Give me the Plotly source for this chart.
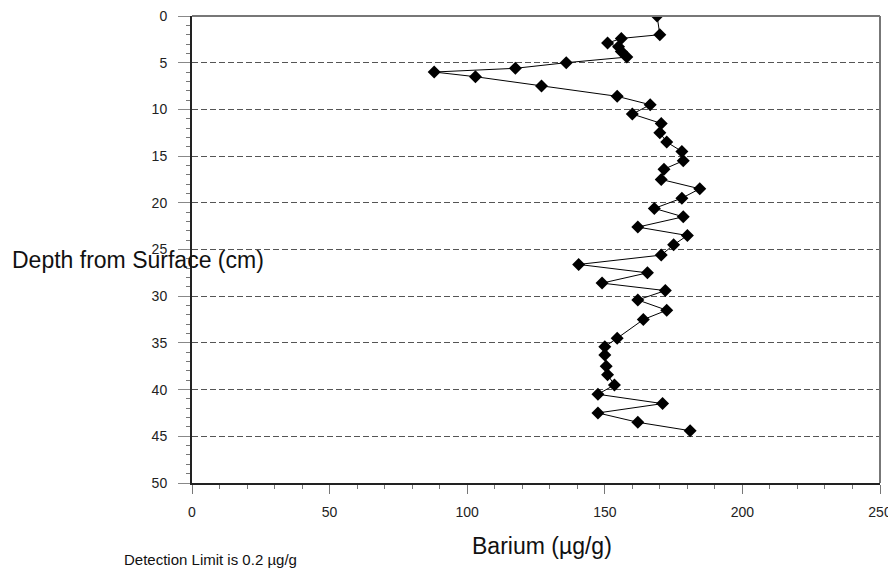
import plotly.graph_objects as go

depth_cm = [0, 2.0, 2.4, 2.9, 3.3, 3.8, 4.4, 5.0, 5.6, 6.0, 6.5, 7.5, 8.6, 9.5,
            10.5, 11.5, 12.5, 13.5, 14.5, 15.5, 16.4, 17.5, 18.5, 19.5,
            20.6, 21.5, 22.6, 23.5, 24.5, 25.6, 26.6, 27.5, 28.6, 29.4,
            30.4, 31.5, 32.5, 34.5, 35.4, 36.3, 37.5, 38.4, 39.5,
            40.5, 41.5, 42.5, 43.5, 44.4]
barium = [169, 170, 156, 151, 155, 156, 158, 136, 117.5, 88, 103, 127, 154.5, 166.5,
          160, 170.5, 170, 172.5, 178, 178.5, 171.5, 170.5, 184.5, 178,
          168, 178.5, 162, 180, 175, 170.5, 140.5, 165.5, 149, 172,
          162, 172.5, 164, 154.5, 150, 150, 150.5, 151, 153.5,
          147.5, 171, 147.5, 162, 181]

x_ticks = [0, 50, 100, 150, 200, 250]
y_ticks = [0, 5, 10, 15, 20, 25, 30, 35, 40, 45, 50]

FONT = "Liberation Sans, Arial, sans-serif"

# target plot area in page pixels: x 192..880, y 16..483 (page has 8px body offset)
OFF = 8
PL, PR, PT, PB = 192, 880, 16, 483
W, H = PR - PL, PB - PT


def px(xp):
    return (xp - PL) / W


def py(yp):
    return (PB - yp) / H


fig = go.Figure()
fig.add_trace(go.Scatter(
    x=barium, y=depth_cm, mode="lines+markers",
    line=dict(color="black", width=1),
    marker=dict(symbol="diamond", size=10, color="black"),
    showlegend=False,
))

fig.update_layout(
    width=896, height=572,
    margin=dict(l=PL - OFF, r=896 - (PR - OFF), t=PT - OFF, b=572 - (PB - OFF)),
    paper_bgcolor="white", plot_bgcolor="white",
    font=dict(family=FONT, size=14, color="#222"),
    xaxis=dict(
        range=[0, 250], tickvals=x_ticks, ticktext=[str(v) for v in x_ticks],
        showgrid=False, zeroline=False, automargin=False,
        showline=True, linecolor="#222", linewidth=2,
        ticks="outside", ticklen=9, tickcolor="#777",
        ticklabelstandoff=6, ticklabeloverflow="allow",
        minor=dict(dtick=10, ticks="outside", ticklen=4, tickcolor="#777"),
        tickfont=dict(size=14, family=FONT, color="#222"),
    ),
    yaxis=dict(
        range=[50, 0], tickvals=y_ticks, ticktext=[str(v) for v in y_ticks],
        showgrid=True, gridcolor="#555", griddash="6px,3px", gridwidth=1,
        zeroline=False, automargin=False,
        showline=True, linecolor="#222", linewidth=2,
        ticks="outside", ticklen=12, tickcolor="#888",
        ticklabelstandoff=8, ticklabeloverflow="allow",
        minor=dict(dtick=1, ticks="outside", ticklen=4, tickcolor="#777", showgrid=False),
        tickfont=dict(size=14, family=FONT, color="#222"),
    ),
    shapes=[
        dict(type="line", xref="paper", yref="paper", x0=0, x1=1, y0=1, y1=1,
             line=dict(color="#777", width=2)),
        dict(type="line", xref="paper", yref="paper", x0=1, x1=1, y0=0, y1=1,
             line=dict(color="#777", width=2)),
    ],
    annotations=[
        dict(text="Depth from Surface (cm)", xref="paper", yref="paper",
             x=px(10), y=py(260), xanchor="left", yanchor="middle",
             showarrow=False, font=dict(size=23, family=FONT, color="#111")),
        dict(text="Barium (µg/g)", xref="paper", yref="paper",
             x=px(542), y=py(546), xanchor="center", yanchor="middle",
             showarrow=False, font=dict(size=23, family=FONT, color="#111")),
        dict(text="Detection Limit is 0.2 µg/g", xref="paper", yref="paper",
             x=px(122), y=py(559), xanchor="left", yanchor="middle",
             showarrow=False, font=dict(size=15, family=FONT, color="#111")),
    ],
)

fig.write_html("out.html")
